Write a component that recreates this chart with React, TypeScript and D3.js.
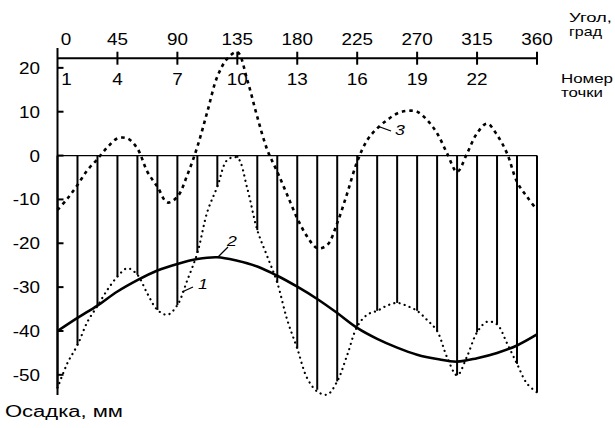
import React from 'react';
import * as d3 from 'd3';

// angle ticks on the top axis, degrees
const angleTicks = [0, 45, 90, 135, 180, 225, 270, 315, 360];
// point numbers shown under the axis
const pointLabels = [1, 4, 7, 10, 13, 16, 19, 22];
const yTicks = [20, 10, 0, -10, -20, -30, -40, -50];

// measured settlement at points 1..25 (every 15 deg), mm
const barValues = [
  -53, -43.2, -34.3, -27.6, -27.2, -35.2, -34.1, -22.2, -7.1, -0.5, -17, -29, -44,
  -53.4, -51.5, -39, -35.4, -33.6, -35.4, -40, -50.1, -40.3, -38.5, -47.5, -54,
];

// curve 1 (dotted), every 7.5 deg
const curve1 = [
  -53, -47.3, -43.2, -37.9, -34.3, -30.6, -27.6, -25.7, -27.2, -31.5, -35.2, -36.3, -34.1,
  -28.4, -22.2, -12.8, -7.1, -1, -0.5, -7.5, -17, -23, -29, -37.5, -44, -50.8, -53.8,
  -54.5, -51.5, -45.5, -39, -36.3, -35.4, -34.2, -33.6, -34.3, -35.4, -37.5, -40, -46,
  -50.1, -45.8, -40.3, -37.9, -38.5, -42.8, -47.5, -52, -54,
];

// curve 2 (solid), every 15 deg
const curve2 = [
  -40, -37, -34.2, -31, -28.4, -26.2, -24.7, -23.6, -23.2, -24, -25.3, -27.4, -29.9,
  -32.7, -35.9, -39.3, -41.8, -43.8, -45.4, -46.4, -47, -46.2, -45, -43.3, -40.8,
];

// curve 3 (dashed), every 7.5 deg
const curve3 = [
  -12.4, -9.8, -6.7, -3.3, -0.8, 1.9, 3.9, 3.9, 1.6, -3.7, -7.1, -10.7, -9.4, -4.4, 2,
  10, 18, 22.1, 23.6, 17.2, 8.8, 1.3, -3.7, -9, -14.3, -18.5, -21.1, -20.4, -15.4, -8.6,
  -1.4, 3.5, 6.2, 8.1, 9.6, 10.2, 10, 8.1, 5.1, 0.5, -3.7, 0.5, 5.1, 7.3, 4.7, 0.5, -6,
  -9.4, -12.4,
];

const W = 615;
const H = 428;
const font = '"Liberation Sans", Arial, sans-serif';

// text drawn a bit wider than the font, like the scanned figure
const Label = ({
  x,
  y,
  anchor = 'start',
  size = 16,
  sx = 1.18,
  italic = false,
  children,
}: {
  x: number;
  y: number;
  anchor?: string;
  size?: number;
  sx?: number;
  italic?: boolean;
  children: React.ReactNode;
}) => (
  <text
    transform={`translate(${x},${y}) scale(${sx},1)`}
    textAnchor={anchor}
    fontSize={size}
    fontStyle={italic ? 'italic' : 'normal'}
  >
    {children}
  </text>
);

export default function App() {
  const x = d3.scaleLinear().domain([0, 360]).range([57.5, 537]);
  const y = d3.scaleLinear().domain([-54.6, 24.3]).range([395, 49]);
  const axisY = y(22.2);

  const half = (i: number) => i * 7.5;
  const full = (i: number) => i * 15;

  const line = (step: (i: number) => number) =>
    d3
      .line<number>()
      .x((_, i) => x(step(i)))
      .y((d) => y(d))
      .curve(d3.curveCatmullRom.alpha(0.5));

  return (
    <svg
      width={W}
      height={H}
      style={{ position: 'absolute', left: 0, top: 0, background: '#fff' }}
      fontFamily={font}
    >
      {/* zero line */}
      <line x1={x(0)} x2={x(360)} y1={y(0)} y2={y(0)} stroke="#000" strokeWidth={1.3} />

      {/* bars */}
      {barValues.map((v, i) => (
        <line
          key={i}
          x1={x(full(i))}
          x2={x(full(i))}
          y1={y(0)}
          y2={y(v)}
          stroke="#000"
          strokeWidth={2}
        />
      ))}

      {/* curves */}
      <path
        d={line(half)(curve1) || ''}
        fill="none"
        stroke="#000"
        strokeWidth={2.2}
        strokeLinecap="round"
        strokeDasharray="0.1 5.2"
      />
      <path d={line(full)(curve2) || ''} fill="none" stroke="#000" strokeWidth={2.6} />
      <path
        d={line(half)(curve3) || ''}
        fill="none"
        stroke="#000"
        strokeWidth={2.6}
        strokeDasharray="3.5 4"
      />

      {/* left axis */}
      <line x1={x(0)} x2={x(0)} y1={48} y2={395} stroke="#000" strokeWidth={2} />
      {yTicks.map((t) => (
        <g key={t}>
          <line x1={x(0)} x2={x(0) + 6} y1={y(t)} y2={y(t)} stroke="#000" strokeWidth={2} />
          <Label x={40} y={y(t) + 6} anchor="end">
            {t}
          </Label>
        </g>
      ))}

      {/* top axis */}
      <line x1={x(0)} x2={x(360)} y1={axisY} y2={axisY} stroke="#000" strokeWidth={2} />
      {angleTicks.map((t) => (
        <g key={t}>
          {t > 0 && (
            <line x1={x(t)} x2={x(t)} y1={axisY - 6.5} y2={axisY + 6.5} stroke="#000" strokeWidth={2} />
          )}
          <Label x={t === 0 ? x(t) + 8.5 : x(t)} y={45} anchor="middle">
            {t}
          </Label>
        </g>
      ))}
      {pointLabels.map((p) => (
        <Label key={p} x={p === 1 ? x(0) + 9 : x(full(p - 1))} y={85} anchor="middle">
          {p}
        </Label>
      ))}

      {/* right titles */}
      <text x={569} y={22} fontSize={13} textLength={43} lengthAdjust="spacingAndGlyphs">Угол,</text>
      <text x={569} y={36} fontSize={13} textLength={33} lengthAdjust="spacingAndGlyphs">град</text>
      <text x={561} y={83} fontSize={13} textLength={52} lengthAdjust="spacingAndGlyphs">Номер</text>
      <text x={561} y={97} fontSize={13} textLength={42} lengthAdjust="spacingAndGlyphs">точки</text>

      <text x={5} y={417} fontSize={16} textLength={118} lengthAdjust="spacingAndGlyphs">
        Осадка, мм
      </text>

      {/* curve labels */}
      <line x1={182} y1={292} x2={193} y2={287} stroke="#000" strokeWidth={1.3} />
      <Label x={198} y={289} size={15} italic>1</Label>
      <line x1={218} y1={257} x2={228} y2={247} stroke="#000" strokeWidth={1.3} />
      <Label x={227} y={246} size={15} italic>2</Label>
      <line x1={380} y1={127} x2={391} y2={131} stroke="#000" strokeWidth={1.3} />
      <Label x={395} y={135} size={15} italic>3</Label>
    </svg>
  );
}
